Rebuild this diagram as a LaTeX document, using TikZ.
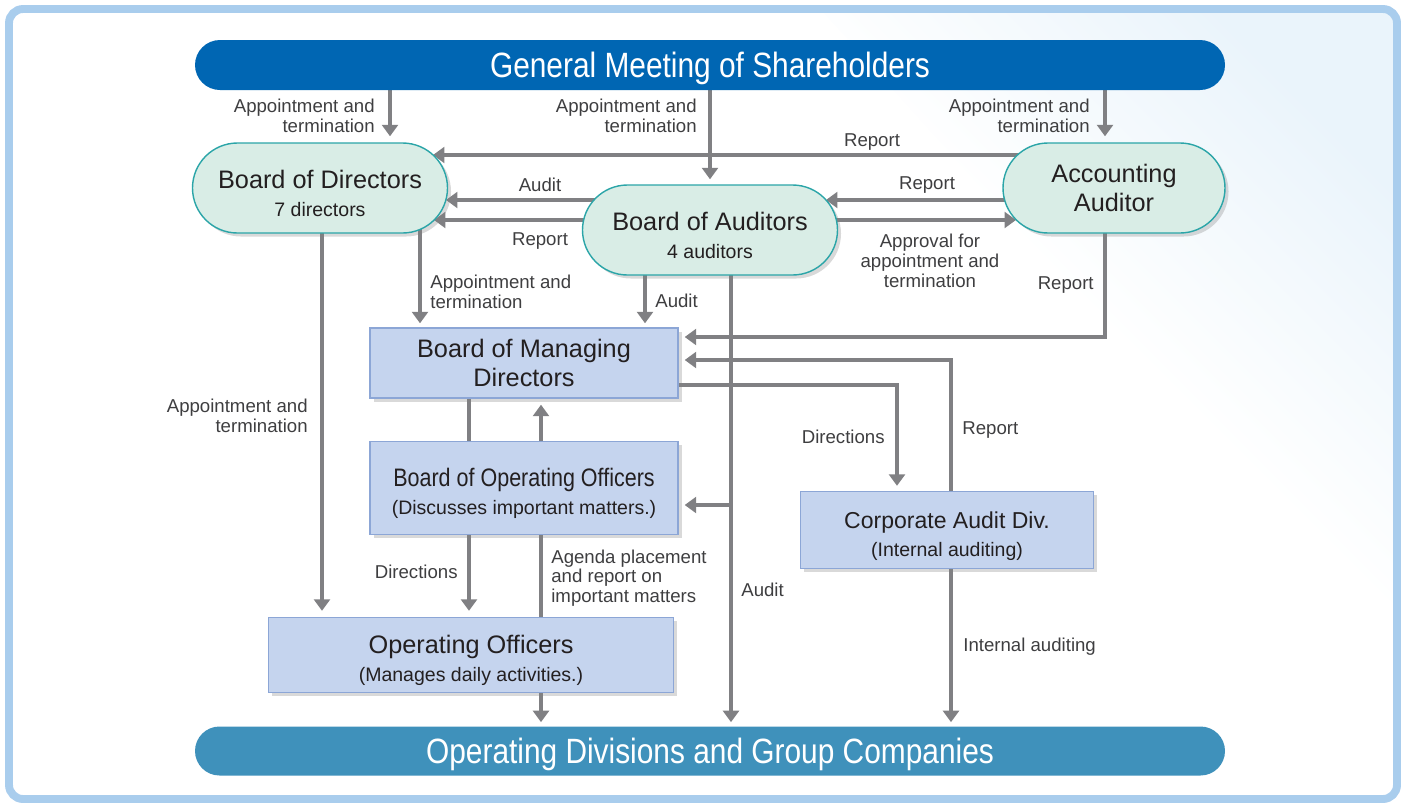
\documentclass[tikz,border=0pt]{standalone}
\usepackage{fontspec}
\setmainfont{Liberation Sans}
\newfontfamily\condfont[FakeStretch=0.85]{Liberation Sans}
\usepackage{tikz}
\usetikzlibrary{shadows}
\usetikzlibrary{positioning}
\usetikzlibrary{arrows.meta,shapes.misc}
\usetikzlibrary{calc,backgrounds}
\definecolor{gmblue}{RGB}{0,102,179}
\definecolor{divblue}{RGB}{63,145,187}
\definecolor{pillfill}{RGB}{217,237,230}
\definecolor{pillline}{RGB}{43,165,168}
\definecolor{boxfill}{RGB}{197,212,238}
\definecolor{boxline}{RGB}{140,166,214}
\definecolor{arrowgray}{RGB}{128,128,131}
\definecolor{framecol}{RGB}{169,205,237}
\definecolor{bgtint}{RGB}{234,244,251}
\definecolor{inkdark}{RGB}{35,31,32}
\definecolor{labelgray}{RGB}{62,62,64}
\newcommand{\headfont}{\fontsize{14.4}{16}\selectfont}
\newcommand{\subfont}{\fontsize{11.1}{13}\selectfont}
\newcommand{\topgap}{\rule{0pt}{16.3pt}}
\tikzstyle{pill}=[rounded rectangle,fill=pillfill,draw=pillline,line width=0.8pt,inner sep=0pt,text=inkdark,align=center,font=\headfont,drop shadow={shadow xshift=2pt,shadow yshift=-2pt,opacity=0.3}]
\tikzstyle{box}=[rectangle,fill=boxfill,draw=boxline,line width=0.8pt,inner sep=0pt,text=inkdark,align=center,font=\headfont,drop shadow={shadow xshift=2pt,shadow yshift=-2pt,opacity=0.3}]
\tikzstyle{bar}=[rounded rectangle,inner sep=0pt,text depth=0pt,text=white,font=\condfont\fontsize{20}{24}\selectfont]
\tikzstyle{flow} = [draw=arrowgray,line width=2.3pt,->]
\tikzstyle{bareflow} = [draw=arrowgray,line width=2.3pt]
\tikzstyle{note} = [font=\fontsize{10.6}{11.2}\selectfont,text=labelgray,inner sep=0pt]

\begin{document}
\begin{tikzpicture}[x=0.02cm,y=-0.02cm,>={Triangle[width=9pt,length=6.5pt]}]

  \def\px{0.02cm}
  \useasboundingbox (0,0) rectangle (1403,805);

  \node[bar, fill=gmblue, minimum width=1030*\px, minimum height=50*\px] (gm) at (710,65) {General Meeting of Shareholders};
  \node[bar, fill=divblue, minimum width=1030*\px, minimum height=49*\px] (odg) at (710,751) {Operating Divisions and Group Companies};

  \foreach \x/\y/\w/\h/\name/\txt in {320/188/255/90/bod/{\topgap Board of Directors\\{\subfont 7 directors}},
      710/230/255/90/boa/{\topgap Board of Auditors\\{\subfont 4 auditors}},
      1114/188/222/90/aa/{Accounting\\Auditor}}
        \node[pill, minimum width=\w*\px, minimum height=\h*\px] (\name) at (\x,\y) {\txt};

  \foreach \x/\y/\w/\h/\name/\txt in {524/363/308/70/bomd/{Board of Managing\\Directors},
      524/488/308/93/booo/{\topgap{\condfont Board of Operating Officers}\\{\subfont (Discusses important matters.)}},
      471/655/405/75/oo/{\topgap Operating Officers\\{\subfont (Manages daily activities.)}},
      947/530/293/77/cad/{\topgap{\fontsize{13.1}{16}\selectfont Corporate Audit Div.}\\{\subfont (Internal auditing)}}}
        \node[box, minimum width=\w*\px, minimum height=\h*\px] (\name) at (\x,\y) {\txt};

  \foreach \x/\y/\anc/\al/\name/\txt in {375/116/east/right/lgm1/{Appointment and\\termination},
      697/116/east/right/lgm2/{Appointment and\\termination},
      1090/116/east/right/lgm3/{Appointment and\\termination},
      872/142/center/center/lrep1/Report,
      540/185/center/center/laud1/Audit,
      540/241/center/center/lrep2/Report,
      927/185/center/center/lrep3/Report,
      930/261/center/center/lappr/{Approval for\\appointment and\\termination},
      430/292/west/left/lbd1/{Appointment and\\termination},
      655/301/west/left/laud2/Audit,
      1094/285/east/right/lrep4/Report,
      308/416/east/right/lbd2/{Appointment and\\termination},
      885/437/east/right/ldir1/Directions,
      962/430/west/left/lrep5/Report,
      458/572/east/right/ldir2/Directions,
      551/578/west/left/lagenda/{Agenda placement\\and report on\\important matters},
      741/590/west/left/laud3/Audit,
      963/647/west/left/lint/Internal auditing}
        \node[note, anchor=\anc, align/.expanded=\al] (\name) at (\x,\y) {\txt};

  \begin{scope}[on background layer]
    % frame
    \begin{scope}
      \clip[rounded corners=8pt] (9,9) rectangle (1397,799);
      \shade[top color=bgtint, bottom color=white, middle color=white, shading angle=-45] (820,9) -- (1397,9) -- (1397,650) -- cycle;
    \end{scope}
    \draw[framecol, line width=4.5pt, rounded corners=8pt] (9,9) rectangle (1397,799);

    % from the general meeting
    \draw[flow] ($(gm.south)+(-320,0)$) -- ($(bod.north)+(70,-6)$);
    \draw[flow] (gm.south) -- ($(boa.north)+(0,-5)$);
    \draw[flow] ($(gm.south)+(395,0)$) -- ($(aa.north)+(-9,-6)$);

    % between the boards
    \draw[flow] ($(aa.center)+(-80,-33)$) -- ($(bod.center)+(113,-33)$);
    \draw[flow] ($(boa.center)+(-100,-30)$) -- ($(bod.center)+(126,12)$);
    \draw[flow] ($(boa.center)+(-100,-10)$) -- ($(bod.center)+(114,32)$);
    \draw[flow] ($(aa.center)+(-50,12)$) -- ($(boa.center)+(116,-30)$);
    \draw[flow] ($(boa.center)+(90,-10)$) -- ($(aa.center)+(-98,32)$);

    % down to the managing board
    \draw[flow] ($(bod.center)+(100,0)$) -- ($(bomd.north)+(-104,-4)$);
    \draw[flow] ($(boa.center)+(-65,0)$) -- ($(bomd.north)+(121,-4)$);
    \draw[flow] ($(aa.center)+(-9,0)$) |- ($(bomd.east)+(6,-26)$);
    \draw[flow] ($(bod.center)+(2,0)$) -- ($(oo.north)+(-149,-6)$);

    % audit line
    \coordinate (auditx) at ($(boa.center)+(21,0)$);
    \coordinate (boin) at ($(booo.east)+(6,17)$);
    \draw[flow] (auditx) -- ($(odg.north)+(21,-4)$);
    \draw[flow] (auditx |- boin) -- (boin);

    % internal audit
    \draw[flow] ($(bomd.east)+(0,22)$) -| ($(cad.north)+(-50,-5)$);
    \draw[flow] ($(cad.center)+(4,0)$) |- ($(bomd.east)+(6,-3)$);
    \draw[flow] ($(cad.center)+(4,0)$) -- ($(odg.north)+(241,-4)$);

    % operating side
    \draw[bareflow] ($(bomd.center)+(-55,0)$) -- ($(booo.center)+(-55,0)$);
    \draw[flow] ($(booo.center)+(17,0)$) -- ($(bomd.south)+(17,6)$);
    \draw[flow] ($(booo.center)+(-55,0)$) -- ($(oo.north)+(-2,-6)$);
    \draw[bareflow] ($(oo.center)+(70,0)$) -- ($(booo.center)+(17,0)$);
    \draw[flow] ($(oo.center)+(70,0)$) -- ($(odg.north)+(-169,-4)$);
  \end{scope}

\end{tikzpicture}
\end{document}
